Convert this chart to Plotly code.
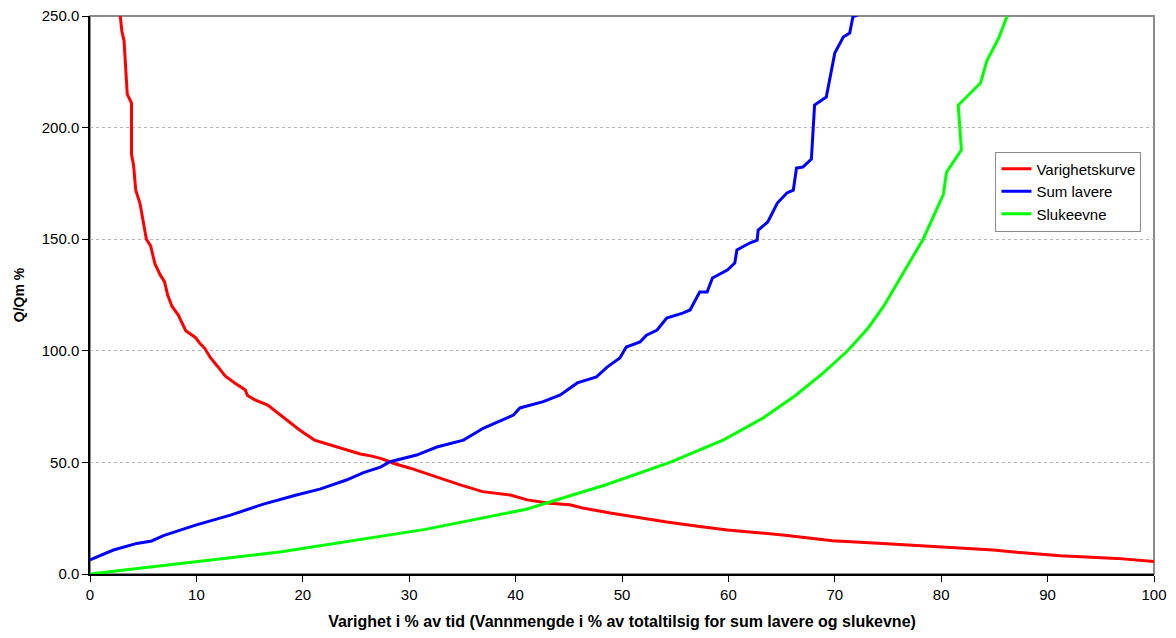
import plotly.graph_objects as go

# Varighetskurve (duration curve), Q/Qm % against % of time
red_x = [2.8, 3.0, 3.2, 3.5, 3.9, 3.9, 4.1, 4.3, 4.7, 5.0, 5.3, 5.7, 6.1, 6.6, 7.0, 7.3,
         7.7, 8.3, 9.0, 9.9, 10.3, 10.8, 11.3, 12.0, 12.7, 13.6, 14.6, 14.8, 15.5, 16.7,
         17.7, 18.8, 19.7, 21.1, 22.6, 24.0, 25.4, 26.5, 27.3, 28.2, 28.5, 30.1, 32.0,
         33.8, 34.8, 36.9, 39.5, 41.1, 43.2, 45.1, 46.3, 48.9, 51.0, 54.2, 57.3, 59.9,
         65.1, 69.8, 74.5, 79.9, 84.9, 87.1, 91.2, 96.5, 100.0]
red_y = [252, 243, 239, 215, 211, 188, 183, 172, 166, 158, 150, 147, 139, 134, 131, 125,
         120, 116, 109, 106, 103.5, 101, 97, 93, 88.7, 85.6, 82.4, 80, 78, 75.7,
         72, 68, 64.5, 60, 57.8, 56, 53.8, 52.8, 51.8, 50.3, 49.6, 47.4, 44.4,
         41.4, 39.9, 36.9, 35.4, 33.2, 31.7, 31.0, 29.6, 27.3, 25.6, 23.3, 21.3, 19.7,
         17.5, 14.9, 13.7, 12.2, 10.75, 9.7, 8.2, 7.0, 5.6]

# Sum lavere
blue_x = [0.0, 2.2, 4.4, 5.8, 6.9, 10.0, 13.2, 16.3, 19.4, 21.6, 24.1, 25.7, 27.3, 28.2,
          30.7, 32.6, 35.1, 37.0, 39.8, 40.4, 42.6, 44.2, 45.8, 47.6, 48.6, 49.8, 50.4,
          51.7, 52.3, 53.3, 54.2, 55.7, 56.4, 57.3, 58.0, 58.5, 59.9, 60.6, 60.8, 62.0,
          62.7, 62.8, 63.7, 64.6, 65.5, 66.1, 66.4, 67.0, 67.8, 68.1, 69.2, 70.0, 70.8,
          71.4, 71.7, 72.4]
blue_y = [6.3, 10.75, 13.7, 14.8, 17.2, 22.0, 26.4, 31.3, 35.4, 38.0, 42.1, 45.4, 47.9, 50.3,
          53.3, 56.9, 60.0, 65.4, 71.2, 74.4, 77.2, 80.2, 85.6, 88.3, 92.7, 96.8, 101.7,
          104.0, 107.0, 109.3, 114.7, 116.9, 118.3, 126.3, 126.3, 132.6, 136.2, 139.3, 145.2, 148.3,
          149.6, 154.1, 157.7, 166.2, 170.7, 172.0, 181.9, 182.3, 185.9, 210.1, 213.7, 233.4, 240.6,
          242.4, 249.6, 251.0]

# Slukeevne
green_x = [0.0, 18.0, 31.5, 41.0, 48.5, 54.5, 59.5, 63.3, 66.3, 68.9, 71.2, 73.1, 74.6,
           78.3, 80.2, 80.5, 81.9, 81.6, 83.7, 84.3, 85.4, 86.2]
green_y = [0, 10, 20, 29, 40, 50, 60, 70, 80, 90, 100, 110, 120,
           150, 170, 180, 190, 210, 220, 230, 240, 250]

x_ticks = [0, 10, 20, 30, 40, 50, 60, 70, 80, 90, 100]
y_ticks = [0, 50, 100, 150, 200, 250]

FONT = "Liberation Sans, Arial, sans-serif"

fig = go.Figure()
fig.add_trace(go.Scatter(x=red_x, y=red_y, mode="lines", name="Varighetskurve",
                         line=dict(color="#ff0000", width=3)))
fig.add_trace(go.Scatter(x=blue_x, y=blue_y, mode="lines", name="Sum lavere",
                         line=dict(color="#0000ff", width=3)))
fig.add_trace(go.Scatter(x=green_x, y=green_y, mode="lines", name="Slukeevne",
                         line=dict(color="#00ff00", width=3)))

# plot-area frame (grey on top and right)
fig.add_shape(type="rect", xref="x domain", yref="y domain", x0=0, x1=1, y0=0, y1=1,
              line=dict(color="#8c8c8c", width=2), layer="below")

fig.update_layout(
    width=1176, height=638,
    margin=dict(l=90, r=22, t=16, b=64, autoexpand=False),
    paper_bgcolor="white", plot_bgcolor="white",
    font=dict(family=FONT, size=15, color="black"),
    showlegend=True,
    legend=dict(x=0.851, y=0.757, xanchor="left", yanchor="top",
                bgcolor="white", bordercolor="#8c8c8c", borderwidth=1,
                font=dict(family=FONT, size=15, color="black"),
                itemwidth=30, tracegroupgap=4),
    xaxis=dict(range=[0, 100], tickvals=x_ticks, ticks="outside", ticklen=6,
               tickcolor="black", showline=True, linecolor="black", linewidth=1.5,
               showgrid=False, zeroline=False, automargin=False,
               tickfont=dict(family=FONT, size=15, color="black"),
               title=dict(text="<b>Varighet i % av tid (Vannmengde i % av totaltilsig for sum lavere og slukevne)</b>",
                          font=dict(family=FONT, size=16, color="black"), standoff=14)),
    yaxis=dict(range=[0, 250], tickvals=y_ticks, tickformat=".1f", ticks="outside",
               ticklen=6, tickcolor="black", showline=True, linecolor="black",
               linewidth=1.5, showgrid=True, gridcolor="#b4b4b4", griddash="dot",
               gridwidth=1, zeroline=False, automargin=False,
               tickfont=dict(family=FONT, size=15, color="black"),
               title=dict(text="<b>Q/Qm %</b>",
                          font=dict(family=FONT, size=14, color="black"), standoff=14)),
)

fig.write_html("out.html")
